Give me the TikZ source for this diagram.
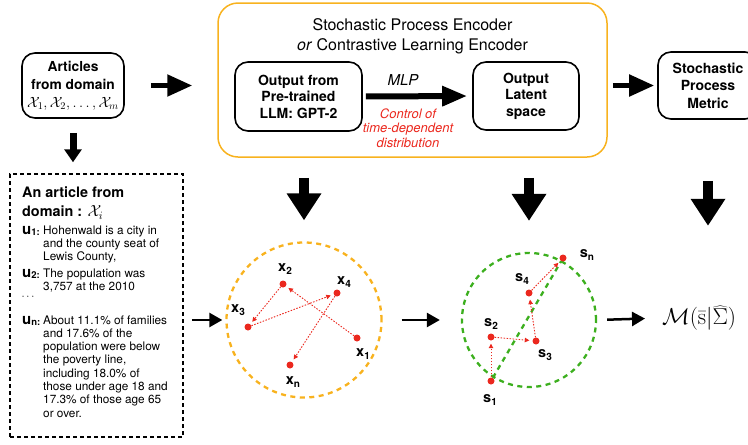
\RequirePackage{fix-cm}
\documentclass[tikz,border=0pt]{standalone}
\usepackage[no-math]{fontspec}
\setmainfont{TeX Gyre Heros}
\usetikzlibrary{arrows.meta}

\definecolor{encorange}{RGB}{248,178,30}
\definecolor{ptred}{RGB}{235,40,30}
\definecolor{pathgreen}{RGB}{60,175,30}

% label of one sentence in the article, e.g. u_1:
\newcommand{\ulab}[1]{\makebox[21pt][l]{\fontsize{15}{15}\selectfont\bfseries u\raisebox{-1.5pt}{\fontsize{9.5}{9.5}\selectfont #1:}}}
% label of one point in a latent space, e.g. x_2
\newcommand{\ptlab}[2]{\textbf{#1}\raisebox{-2.5pt}{\fontsize{10}{10}\selectfont\bfseries #2}}

\begin{document}
\begin{tikzpicture}[x=1pt, y=-1pt,
    box/.style={draw, line width=1.6pt, rounded corners=13pt, align=center, inner sep=0pt,
        font=\fontsize{14}{16.5}\selectfont\bfseries},
    toparrow/.style={line width=5pt, -{Triangle[width=21pt,length=25pt]}},
    mlparrow/.style={line width=6pt, -{Triangle[width=19pt,length=25pt]}},
    downarrow/.style={line width=10pt, -{Triangle[width=33pt,length=27pt]}},
    smalldown/.style={line width=7pt, -{Triangle[width=17pt,length=13pt]}},
    thinarrow/.style={line width=2.5pt, -{Triangle[width=14pt,length=13pt]}},
    pt/.style={circle, fill=ptred, inner sep=0pt, minimum size=7pt},
    ptlabel/.style={inner sep=0pt, font=\fontsize{14.5}{14.5}\selectfont},
    walk/.style={ptred, line width=0.9pt, dash pattern=on 1.5pt off 1.5pt,
        -{Triangle[width=4.5pt,length=4.5pt]}, shorten >=3pt},
    sentence/.style={anchor=base west, inner sep=0pt, font=\fontsize{11.8}{13.3}\selectfont}]
    \useasboundingbox (0,0) rectangle (748,445);

    % Top row: articles, encoder, metric
    \node[box, minimum width=102pt, minimum height=65pt, font=\fontsize{13.8}{18}\selectfont\bfseries]
        (articles) at (73,85.5) {Articles\\from domain\\{\fontsize{14.8}{18}\selectfont$\mathcal{X}_1,\mathcal{X}_2,\ldots,\mathcal{X}_m$}};
    \node[draw=encorange, line width=1.5pt, rounded corners=20pt, minimum width=389pt,
        minimum height=154pt, inner sep=0pt] (enc) at (412.5,80) {};
    \node[align=center, inner sep=0pt, font=\fontsize{16}{20}\selectfont]
        (enctitle) at (412.5,36) {Stochastic Process Encoder\\\textit{or} Contrastive Learning Encoder};
    \node[box, minimum width=127pt, minimum height=69pt] (gpt) at (298.5,96.5) {Output from\\Pre-trained\\LLM: GPT-2};
    \node[box, minimum width=106pt, minimum height=68pt] (latent) at (526,96) {Output\\Latent\\space};
    \node[box, minimum width=100pt, minimum height=67pt, font=\fontsize{14}{17.5}\selectfont\bfseries]
        (metric) at (708,85.5) {Stochastic\\Process\\Metric};

    \draw[toparrow, shorten <=26pt, shorten >=25pt] (articles.east) -- (articles.east -| enc.west);
    \draw[toparrow, shorten <=5pt, shorten >=3pt] (enc.east |- metric.west) -- (metric.west);
    \draw[mlparrow, shorten <=3pt, shorten >=5pt] (gpt.east) -- (latent.west);
    \node[font=\fontsize{15}{15}\selectfont\itshape] (mlp) at (403,80) {MLP};
    \node[align=center, inner sep=0pt, text=ptred, font=\fontsize{13}{14.5}\selectfont\itshape]
        (control) at (408,128) {Control of\\time-dependent\\distribution};

    % Article box
    \node[draw, dashed, line width=1.5pt, dash pattern=on 4pt off 3pt, minimum width=173pt,
        minimum height=263pt, inner sep=0pt] (artbox) at (96.5,305.5) {};
    \node[anchor=north west, align=left, inner sep=0pt, font=\fontsize{14.4}{19}\selectfont\bfseries]
        (arttitle) at (22,187) {An article from\\domain : {\fontsize{16}{19}\selectfont$\mathcal{X}_i$}};
    \node[sentence] (u1) at (22,234) {\begin{tabular}[t]{@{}l@{}l@{}}
        \ulab{1} & Hohenwald is a city in\\ & and the county seat of\\ & Lewis County,\end{tabular}};
    \node[sentence] (u2) at (22,277.3) {\begin{tabular}[t]{@{}l@{}l@{}}
        \ulab{2} & The population was\\ & 3,757 at the 2010\end{tabular}};
    \node[inner sep=0pt, font=\fontsize{11}{11}\selectfont] (udots) at (28,297) {$\cdots$};
    \node[sentence] (un) at (22,324) {\begin{tabular}[t]{@{}l@{}l@{}}
        \ulab{n} & About 11.1\% of families\\ & and 17.6\% of the\\ & population were below\\
        & the poverty line,\\ & including 18.0\% of\\ & those under age 18 and\\
        & 17.3\% of those age 65\\ & or over.\end{tabular}};
    \draw[smalldown, shorten <=14pt, shorten >=11pt] (articles.south) -- (articles.south |- artbox.north);

    % Latent space of the encoder output
    \node[circle, draw=encorange, line width=2.3pt, dash pattern=on 5pt off 4.5pt,
        minimum size=155pt, inner sep=0pt] (cx) at (304,320) {};
    \foreach \n/\px/\py in {1/357/338, 2/283/284, 3/248/327, 4/337/293, n/290/365} {
        \node[pt] (x\n) at (\px,\py) {};
    }
    \foreach \n/\lx/\ly in {1/363/354, 2/285/269, 3/238/310, 4/344/282, n/293/382} {
        \node[ptlabel] (tx\n) at (\lx,\ly) {\ptlab{x}{\n}};
    }
    \draw[walk] (x1) -- (x2);
    \draw[walk] (x2) -- (x3);
    \draw[walk] (x3) -- (x4);
    \draw[walk] (x4) -- (xn);

    % Stochastic process in the latent space
    \node[circle, draw=pathgreen, line width=2.3pt, dash pattern=on 5pt off 4.5pt,
        minimum size=134pt, inner sep=0pt] (cs) at (529,320) {};
    \foreach \n/\px/\py in {1/491/381, 2/491/337, 3/536/341, 4/529/293, n/563/258} {
        \node[pt] (s\n) at (\px,\py) {};
    }
    \draw[pathgreen, line width=2.3pt, dash pattern=on 5pt off 4.5pt] (s1) -- (sn);
    \foreach \n/\lx/\ly in {1/490/400, 2/491/324, 3/545/355, 4/522/279, n/587/255} {
        \node[ptlabel] (ts\n) at (\lx,\ly) {\ptlab{s}{\n}};
    }
    \draw[walk] (s1) -- (s2);
    \draw[walk] (s2) -- (s3);
    \draw[walk] (s3) -- (s4);
    \draw[walk] (s4) -- (sn);

    % Metric
    \node[anchor=west, inner sep=0pt, font=\fontsize{23}{23}\selectfont]
        (mform) at (662,318) {$\mathcal{M}(\bar{\mathrm{s}}|\widehat{\Sigma})$};

    % Connections to the bottom row
    \draw[downarrow, shorten <=20pt, shorten >=21pt] (cx.north |- enc.south) -- (cx.north);
    \draw[downarrow, shorten <=20pt, shorten >=31pt] (cs.north |- enc.south) -- (cs.north);
    \draw[downarrow, shorten <=61pt] (metric.south) -- ++(0,106);
    \draw[thinarrow, shorten <=8pt, shorten >=3pt] (artbox.east |- cx.west) -- (cx.west);
    \draw[thinarrow, shorten <=19pt, shorten >=21pt] (cx.east) -- (cs.west);
    \draw[thinarrow, shorten <=10pt, shorten >=17pt] (cs.east) -- (mform.west);
\end{tikzpicture}
\end{document}
